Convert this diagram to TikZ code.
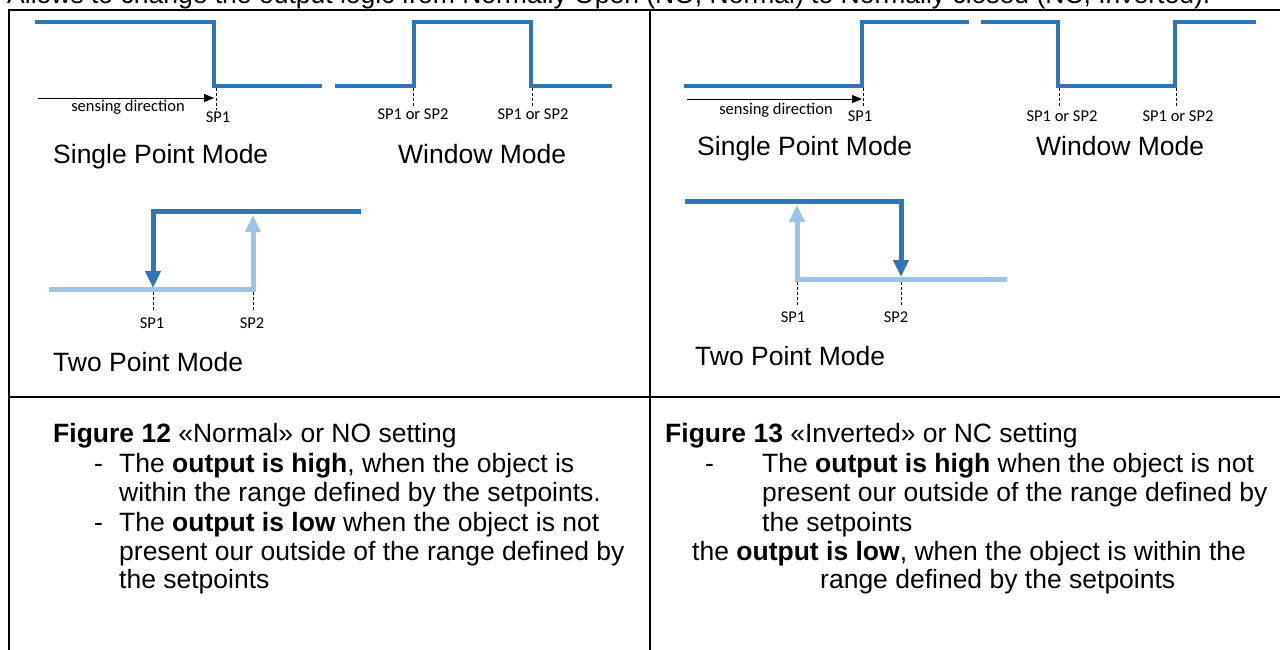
\documentclass[tikz,border=0pt]{standalone}
\usepackage{fontspec}
\setmainfont{Liberation Sans}
\newfontfamily\lblfont{Carlito}
\usetikzlibrary{arrows.meta}
\definecolor{wblue}{HTML}{2E75B6}
\definecolor{lblue}{HTML}{9DC3E6}
\begin{document}
\begin{tikzpicture}[x=1pt,y=-1pt,
  wave/.style={draw=wblue,line width=4pt,line join=miter},
  darkarr/.style={draw=wblue,line width=5pt,line join=miter,-{Triangle[length=17pt,width=15pt]}},
  lightarr/.style={draw=lblue,line width=5pt,line join=miter,-{Triangle[length=17pt,width=15pt]}},
  spline/.style={draw=black,line width=0.8pt,dash pattern=on 3pt off 2pt},
  sense/.style={draw=black,line width=0.8pt,-{Triangle[length=10pt,width=8pt]}},
  small/.style={inner sep=0pt,font=\lblfont\fontsize{16.5}{18}\selectfont},
  big/.style={inner sep=0pt,anchor=base west,font=\fontsize{26.5}{29.3}\selectfont},
  grid/.style={draw=black,line width=2pt}]
\useasboundingbox (0,0) rectangle (1280,650);
\clip (0,0) rectangle (1280,650);
\fill[white] (0,0) rectangle (1280,650);

% heading (cut at top)
\node[big] (head) at (7,3.5) {Allows to change the output logic from Normally Open (NO, Normal) to Normally closed (NC, Inverted).};

% table frame
\draw[black,line width=1.2pt] (8,10) -- (623,10);
\draw[black,line width=2pt] (623,10.3) -- (1280,10.3);
\draw[black,line width=2pt] (8,10.3) -- (28,10.3);
\draw[grid] (8.5,9.5) -- (8.5,650);
\draw[grid] (650,9.5) -- (650,650);
\draw[grid] (8,397) -- (1280,397);

% ---------- left: Single Point Mode ----------
\coordinate (a1) at (35,22);
\coordinate (a2) at (214,22);
\coordinate (a3) at (214,86);
\coordinate (a4) at (322,86);
\draw[wave] (a1) -- (a2) -- (a3) -- (a4);
\coordinate (as0) at (38,98);
\coordinate (as1) at (214,98);
\draw[sense] (as0) -- (as1);
\coordinate (ad0) at (216,88);
\coordinate (ad1) at (216,110);
\draw[spline] (ad0) -- (ad1);
\node[small] (lsense) at (128,107) {sensing direction};
\node[small] (lsp1) at (218,117) {SP1};
\node[big] (lspm) at (53,164) {Single Point Mode};

% ---------- left: Window Mode ----------
\coordinate (w1) at (335,86);
\coordinate (w2) at (414,86);
\coordinate (w3) at (414,22);
\coordinate (w4) at (531,22);
\coordinate (w5) at (531,86);
\coordinate (w6) at (612,86);
\draw[wave] (w1) -- (w2) -- (w3) -- (w4) -- (w5) -- (w6);
\coordinate (wd1a) at (413,88);
\coordinate (wd1b) at (413,106);
\coordinate (wd2a) at (532,88);
\coordinate (wd2b) at (532,106);
\draw[spline] (wd1a) -- (wd1b);
\draw[spline] (wd2a) -- (wd2b);
\node[small] (lw1) at (413,114) {SP1 or SP2};
\node[small] (lw2) at (533,114) {SP1 or SP2};
\node[big] (lwm) at (398,164) {Window Mode};

% ---------- left: Two Point Mode ----------
\coordinate (t1) at (49,289);
\coordinate (t2) at (253,289);
\coordinate (t3) at (253,215);
\draw[lightarr] (t1) -- (t2) -- (t3);
\coordinate (u1) at (361,211);
\coordinate (u2) at (153,211);
\coordinate (u3) at (153,288);
\draw[darkarr] (u1) -- (u2) -- (u3);
\coordinate (td1a) at (153,292);
\coordinate (td1b) at (153,312);
\coordinate (td2a) at (253,292);
\coordinate (td2b) at (253,312);
\draw[spline] (td1a) -- (td1b);
\draw[spline] (td2a) -- (td2b);
\node[small] (ltsp1) at (152,323) {SP1};
\node[small] (ltsp2) at (252,323) {SP2};
\node[big] (ltpm) at (53,371) {Two Point Mode};

% ---------- right: Single Point Mode ----------
\coordinate (b1) at (684,86);
\coordinate (b2) at (862,86);
\coordinate (b3) at (862,22);
\coordinate (b4) at (969,22);
\draw[wave] (b1) -- (b2) -- (b3) -- (b4);
\coordinate (bs0) at (687,99);
\coordinate (bs1) at (862,99);
\draw[sense] (bs0) -- (bs1);
\coordinate (bd0) at (863,88);
\coordinate (bd1) at (863,108);
\draw[spline] (bd0) -- (bd1);
\node[small] (rsense) at (776,110) {sensing direction};
\node[small] (rsp1) at (860,116) {SP1};
\node[big] (rspm) at (697,156) {Single Point Mode};

% ---------- right: Window Mode ----------
\coordinate (v1) at (981,22);
\coordinate (v2) at (1058,22);
\coordinate (v3) at (1058,86);
\coordinate (v4) at (1175,86);
\coordinate (v5) at (1175,22);
\coordinate (v6) at (1256,22);
\draw[wave] (v1) -- (v2) -- (v3) -- (v4) -- (v5) -- (v6);
\coordinate (vd1a) at (1059,88);
\coordinate (vd1b) at (1059,107);
\coordinate (vd2a) at (1176,88);
\coordinate (vd2b) at (1176,107);
\draw[spline] (vd1a) -- (vd1b);
\draw[spline] (vd2a) -- (vd2b);
\node[small] (rw1) at (1062,116) {SP1 or SP2};
\node[small] (rw2) at (1178,116) {SP1 or SP2};
\node[big] (rwm) at (1036,156) {Window Mode};

% ---------- right: Two Point Mode ----------
\coordinate (r1) at (1007,279);
\coordinate (r2) at (797,279);
\coordinate (r3) at (797,205);
\draw[lightarr] (r1) -- (r2) -- (r3);
\coordinate (s1) at (685,201);
\coordinate (s2) at (901,201);
\coordinate (s3) at (901,277);
\draw[darkarr] (s1) -- (s2) -- (s3);
\coordinate (rd1a) at (797,282);
\coordinate (rd1b) at (797,305);
\coordinate (rd2a) at (901,282);
\coordinate (rd2b) at (901,305);
\draw[spline] (rd1a) -- (rd1b);
\draw[spline] (rd2a) -- (rd2b);
\node[small] (rtsp1) at (793,317) {SP1};
\node[small] (rtsp2) at (896,317) {SP2};
\node[big] (rtpm) at (695,365) {Two Point Mode};

% ---------- bottom texts, left ----------
\node[big] (f12) at (53,442) {\textbf{Figure 12} «Normal» or NO setting};
\node[big] (ld1) at (94,472) {-};
\node[big] (ll1) at (119,472) {The \textbf{output is high}, when the object is};
\node[big] (ll2) at (119,501) {within the range defined by the setpoints.};
\node[big] (ld2) at (94,531) {-};
\node[big] (ll3) at (119,531) {The \textbf{output is low} when the object is not};
\node[big] (ll4) at (119,560) {present our outside of the range defined by};
\node[big] (ll5) at (119,588) {the setpoints};

% ---------- bottom texts, right ----------
\node[big] (f13) at (665,442) {\textbf{Figure 13} «Inverted» or NC setting};
\node[big] (rd1) at (705,472) {-};
\node[big] (rl1) at (762,472) {The \textbf{output is high} when the object is not};
\node[big] (rl2) at (762,501) {present our outside of the range defined by};
\node[big] (rl3) at (762,531) {the setpoints};
\node[big] (rl4) at (692,560) {the \textbf{output is low}, when the object is within the};
\node[big] (rl5) at (820,588) {range defined by the setpoints};
\end{tikzpicture}
\end{document}
